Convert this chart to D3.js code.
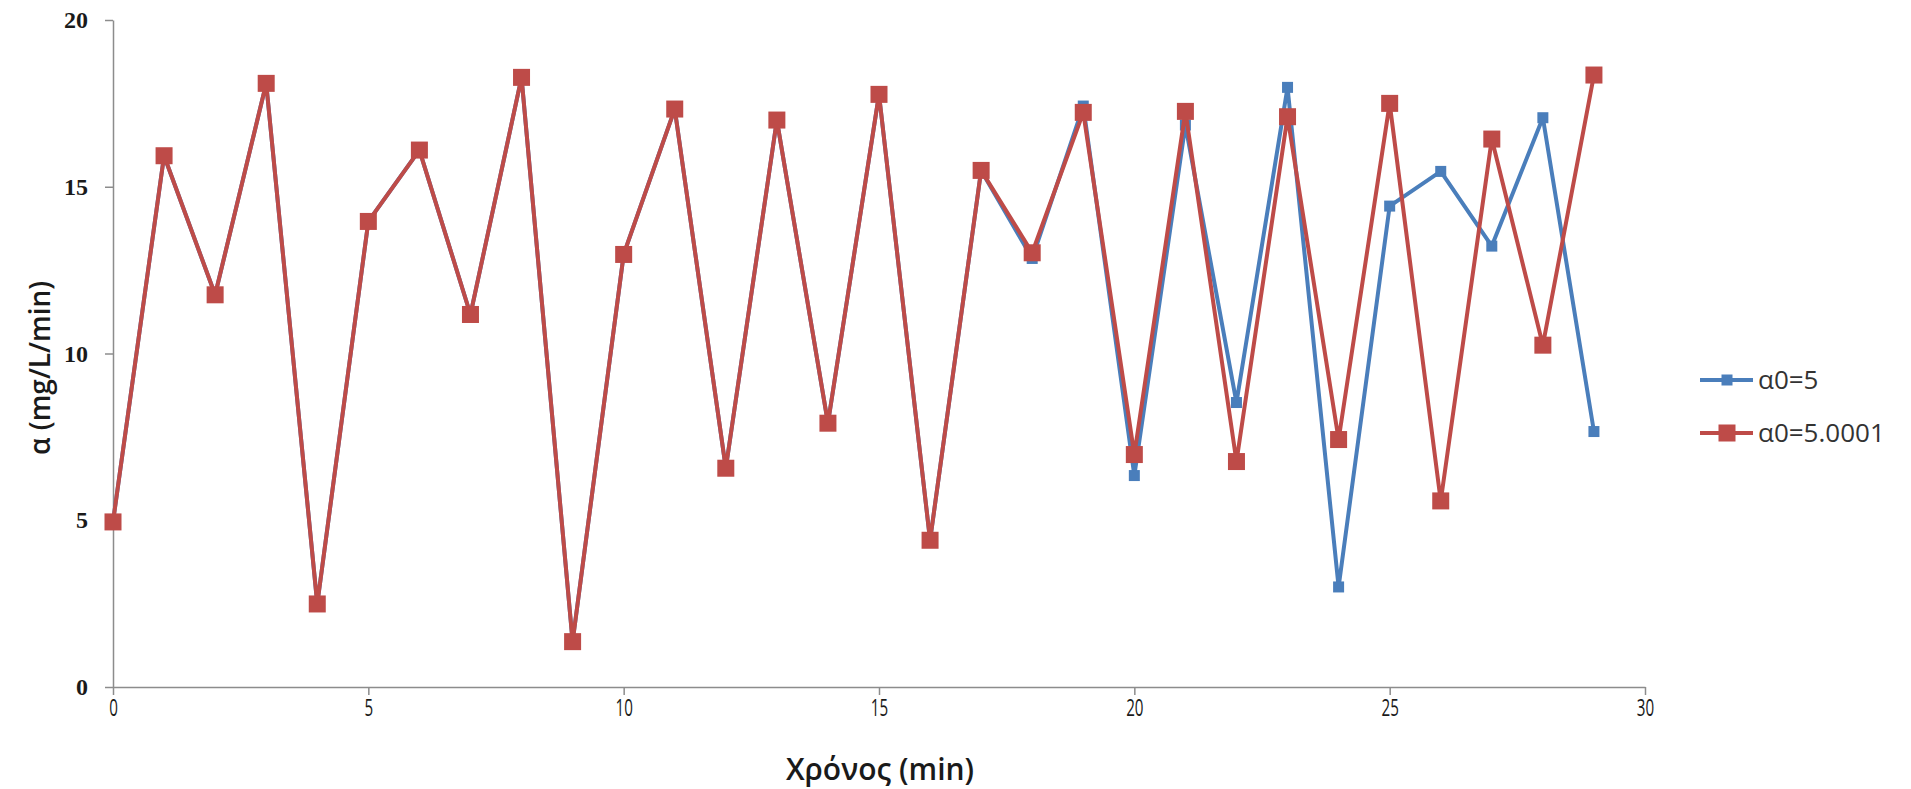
<!DOCTYPE html>
<html>
<head>
<meta charset="utf-8">
<script src="https://cdn.jsdelivr.net/npm/d3@7"></script>
<style>
  html, body { margin: 0; padding: 0; background: #fff; }
  svg { display: block; }
</style>
</head>
<body>
<svg id="chart" width="1911" height="789"></svg>
<script>
// ---- data ----
const times = [0,1,2,3,4,5,6,7,8,9,10,11,12,13,14,15,16,17,18,19,20,21,22,23,24,25,26,27,28,29];
const seriesA = [4.95,15.93,11.76,18.1,2.49,13.96,16.1,11.17,18.28,1.36,12.97,17.33,6.56,17.0,7.91,17.77,4.4,15.49,12.85,17.42,6.34,16.85,8.53,17.98,3.0,14.42,15.46,13.22,17.07,7.66];
const seriesB = [4.95,15.93,11.76,18.1,2.49,13.96,16.1,11.17,18.28,1.36,12.97,17.33,6.56,17.0,7.91,17.77,4.4,15.49,13.02,17.23,6.97,17.26,6.76,17.1,7.42,17.5,5.58,16.43,10.25,18.35];
const seriesNames = ["α0=5", "α0=5.0001"];
const seriesColors = ["#4A7EBB", "#BE4B48"];
const xTicks = [0,5,10,15,20,25,30];
const yTicks = [0,5,10,15,20];
const xTitle = "Χρόνος (min)";
const yTitle = "α (mg/L/min)";

// ---- layout ----
const svg = d3.select("#chart");
const L = 113, R = 1645, T = 20, B = 687;
const x = d3.scaleLinear().domain([0, 30]).range([L, R]);
const y = d3.scaleLinear().domain([0, 20]).range([B, T]);
const axisColor = "#8c8c8c";

// y axis
const yAxis = svg.append("g").attr("transform", `translate(${L},0)`)
  .call(d3.axisLeft(y).tickValues(yTicks).tickSize(8).tickSizeOuter(0).tickPadding(17));
yAxis.select(".domain").attr("stroke", axisColor).attr("stroke-width", 1.5);
yAxis.selectAll(".tick line").attr("stroke", axisColor).attr("stroke-width", 1.5);
yAxis.selectAll(".tick text")
  .attr("font-family", "'Liberation Serif', serif")
  .attr("font-weight", "bold")
  .attr("font-size", 24)
  .attr("fill", "#1a1a1a");

// x axis
const xAxis = svg.append("g").attr("transform", `translate(0,${B})`)
  .call(d3.axisBottom(x).tickValues(xTicks).tickSize(8).tickSizeOuter(0).tickPadding(5));
xAxis.select(".domain").attr("stroke", axisColor).attr("stroke-width", 1.5);
xAxis.selectAll(".tick line").attr("stroke", axisColor).attr("stroke-width", 1.5);
xAxis.selectAll(".tick text")
  .attr("font-family", "'Open Sans', sans-serif")
  .attr("font-size", 23)
  .attr("fill", "#1a1a1a")
  .attr("transform", "scale(0.66,1)");

// titles
svg.append("text")
  .attr("x", 880).attr("y", 780)
  .attr("text-anchor", "middle")
  .attr("font-family", "'Open Sans', sans-serif")
  .attr("font-weight", 600)
  .attr("font-size", 30)
  .attr("fill", "#1a1a1a")
  .text(xTitle);

svg.append("text")
  .attr("transform", "translate(50,368) rotate(-90)")
  .attr("text-anchor", "middle")
  .attr("font-family", "'Open Sans', sans-serif")
  .attr("font-weight", 600)
  .attr("font-size", 28)
  .attr("fill", "#1a1a1a")
  .text(yTitle);

// series
const allSeries = [seriesA, seriesB];
const markerSizes = [11, 17];
const line = d3.line().x((d, i) => x(times[i])).y(d => y(d));

allSeries.forEach((vals, si) => {
  const g = svg.append("g");
  g.append("path")
    .datum(vals)
    .attr("d", line)
    .attr("fill", "none")
    .attr("stroke", seriesColors[si])
    .attr("stroke-width", 4)
    .attr("stroke-linejoin", "round");
  const s = markerSizes[si];
  g.selectAll("rect")
    .data(vals)
    .join("rect")
    .attr("x", (d, i) => x(times[i]) - s / 2)
    .attr("y", d => y(d) - s / 2)
    .attr("width", s)
    .attr("height", s)
    .attr("fill", seriesColors[si]);
});

// legend
const legendY = [380, 433];
seriesNames.forEach((name, si) => {
  const g = svg.append("g");
  g.append("line")
    .attr("x1", 1700).attr("x2", 1753)
    .attr("y1", legendY[si]).attr("y2", legendY[si])
    .attr("stroke", seriesColors[si]).attr("stroke-width", 4);
  const s = markerSizes[si];
  g.append("rect")
    .attr("x", 1727 - s / 2).attr("y", legendY[si] - s / 2)
    .attr("width", s).attr("height", s)
    .attr("fill", seriesColors[si]);
  g.append("text")
    .attr("x", 1758).attr("y", legendY[si])
    .attr("dy", "0.35em")
    .attr("font-family", "'Open Sans', sans-serif")
    .attr("font-size", 26)
    .attr("fill", "#333")
    .text(name);
});
</script>
</body>
</html>
